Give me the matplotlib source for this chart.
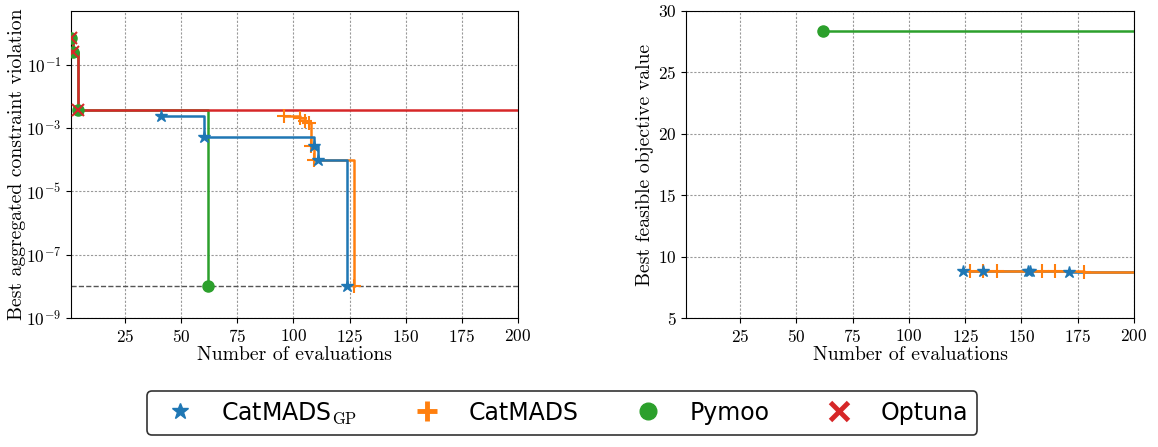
import math
import matplotlib
matplotlib.use("Agg")
import matplotlib.pyplot as plt
from matplotlib.lines import Line2D
from matplotlib.ticker import FuncFormatter, FixedLocator

plt.rcParams['font.family'] = 'serif'
plt.rcParams['font.serif'] = ['cmr10']
plt.rcParams['mathtext.fontset'] = 'cm'
plt.rcParams['axes.formatter.use_mathtext'] = True

# ---- data: constraint violation (left) ----
gp_x = [41, 60, 109, 111, 124]
gp_h = [2.5e-3, 5.1e-4, 2.8e-4, 1.0e-4, 1e-8]
cm_x = [96, 103, 105, 107, 108, 109, 127]
cm_h = [2.5e-3, 2.1e-3, 1.7e-3, 1.4e-3, 2.8e-4, 1.0e-4, 1e-8]
py_x = [1, 2, 4, 62]
py_h = [0.72, 0.26, 3.8e-3, 1e-8]
op_x = [1, 2, 4]
op_h = [0.72, 0.26, 3.8e-3]
op_end = 200

# ---- data: feasible objective (right) ----
gp_fx = [124, 133, 153, 154, 171]
gp_f = [8.86, 8.85, 8.83, 8.82, 8.78]
cm_fx = [127, 133, 139, 159, 165, 178]
cm_f = [8.84, 8.83, 8.82, 8.80, 8.79, 8.78]
py_fx = [62]
py_f = [28.4]
x_end = 200

BLUE, ORANGE, GREEN, RED = '#1f77b4', '#ff7f0e', '#2ca02c', '#d62728'
LW = 1.8

fig = plt.figure(figsize=(11.58, 4.47), dpi=100)
ax1 = fig.add_axes([0.0613, 0.2886, 0.386, 0.6868])
ax2 = fig.add_axes([0.5924, 0.2886, 0.3869, 0.6868])

def grid(ax):
    ax.grid(True, color='#999999', linestyle=(0, (2, 1.5)), linewidth=0.8)
    ax.set_axisbelow(True)

# left
ax1.axhline(1e-8, color='#555555', linestyle='--', linewidth=1.0, zorder=1)
ax1.plot(py_x, py_h, drawstyle='steps-post', color=GREEN, lw=LW, zorder=2)
ax1.plot(py_x, py_h, ls='none', marker='o', color=GREEN, ms=8, zorder=5)
ax1.plot(op_x + [op_end], op_h + [op_h[-1]], drawstyle='steps-post', color=RED, lw=LW, zorder=3)
ax1.plot(op_x, op_h, ls='none', marker='x', color=RED, ms=8, mew=1.5, zorder=6)
ax1.plot(cm_x, cm_h, drawstyle='steps-post', color=ORANGE, lw=LW, zorder=3)
ax1.plot(cm_x, cm_h, ls='none', marker='+', color=ORANGE, ms=10, mew=1.5, zorder=6)
ax1.plot(gp_x, gp_h, drawstyle='steps-post', color=BLUE, lw=LW, zorder=3)
ax1.plot(gp_x, gp_h, ls='none', marker='*', color=BLUE, ms=9, zorder=6)
ax1.set_yscale('log')
ax1.set_ylim(1e-9, 10**0.7)
ax1.set_xlim(1, 200)
ax1.set_xticks([25, 50, 75, 100, 125, 150, 175, 200])
ax1.yaxis.set_major_locator(FixedLocator([1e-9, 1e-7, 1e-5, 1e-3, 1e-1]))
ax1.yaxis.set_minor_locator(FixedLocator([]))
ax1.yaxis.set_major_formatter(FuncFormatter(lambda v, p: r'$10^{%d}$' % round(math.log10(v))))
ax1.set_xlabel('Number of evaluations', fontsize=14.2, labelpad=1)
ax1.set_ylabel('Best aggregated constraint violation', fontsize=14.2, labelpad=0)
grid(ax1)

# right
ax2.plot(py_fx + [x_end], py_f + [py_f[-1]], drawstyle='steps-post', color=GREEN, lw=LW, zorder=2)
ax2.plot(py_fx, py_f, ls='none', marker='o', color=GREEN, ms=8, zorder=5)
ax2.plot(gp_fx + [x_end], gp_f + [gp_f[-1]], drawstyle='steps-post', color=BLUE, lw=LW, zorder=3)
ax2.plot(cm_fx + [x_end], cm_f + [cm_f[-1]], drawstyle='steps-post', color=ORANGE, lw=LW, zorder=4)
ax2.plot(cm_fx, cm_f, ls='none', marker='+', color=ORANGE, ms=10, mew=1.5, zorder=6)
ax2.plot(gp_fx, gp_f, ls='none', marker='*', color=BLUE, ms=9, zorder=6)
ax2.set_xlim(1, 200)
ax2.set_ylim(5, 30)
ax2.set_xticks([25, 50, 75, 100, 125, 150, 175, 200])
ax2.set_yticks([5, 10, 15, 20, 25, 30])
ax2.set_xlabel('Number of evaluations', fontsize=14.2, labelpad=1)
ax2.set_ylabel('Best feasible objective value', fontsize=14.2, labelpad=3)
grid(ax2)

for ax in (ax1, ax2):
    ax.tick_params(labelsize=12.5)

handles = [
    Line2D([], [], ls='none', marker='*', color=BLUE, ms=12),
    Line2D([], [], ls='none', marker='+', color=ORANGE, ms=15, mew=3.5),
    Line2D([], [], ls='none', marker='o', color=GREEN, ms=12),
    Line2D([], [], ls='none', marker='x', color=RED, ms=13, mew=3.5),
]
labels = [r'CatMADS$_{\mathrm{GP}}$', 'CatMADS', 'Pymoo', 'Optuna']
leg = fig.legend(handles, labels, loc='lower center', ncol=4,
                 bbox_to_anchor=(0.4855, 0.0), frameon=True, fancybox=True,
                 edgecolor='black', prop={'family': 'DejaVu Sans', 'size': 17},
                 columnspacing=1.95, handletextpad=0.75, borderpad=0.4)
leg.get_frame().set_linewidth(1.2)

fig.savefig('out.png', dpi=100)
